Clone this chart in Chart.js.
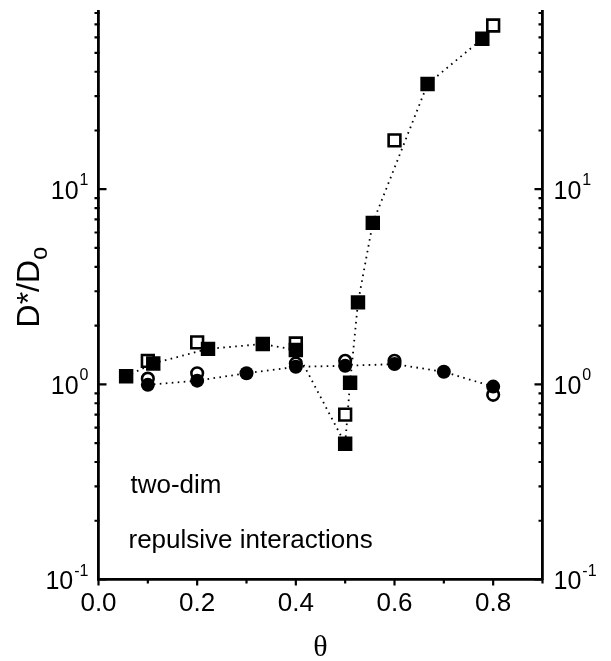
<!DOCTYPE html>
<html>
<head>
<meta charset="utf-8">
<script src="https://cdn.jsdelivr.net/npm/chart.js@4"></script>
<style>
  html, body { margin: 0; padding: 0; background: #fff; }
  #wrap { width: 611px; height: 661px; position: relative; }
</style>
</head>
<body>
<div id="wrap"><canvas id="myChart"></canvas></div>
<script>
// theta values and D*/Do
const openSquareX = [0.1, 0.2, 0.4, 0.5, 0.6, 0.8];
const openSquareY = [1.32, 1.64, 1.62, 0.70, 17.8, 69.0];
const filledSquareX = [0.056, 0.111, 0.222, 0.333, 0.4, 0.5, 0.51, 0.526, 0.556, 0.667, 0.778];
const filledSquareY = [1.10, 1.28, 1.52, 1.61, 1.50, 0.496, 1.02, 2.63, 6.72, 34.6, 59.0];
const openCircleX = [0.1, 0.2, 0.4, 0.5, 0.6, 0.8];
const openCircleY = [1.07, 1.14, 1.28, 1.32, 1.32, 0.884];
const filledCircleX = [0.1, 0.2, 0.3, 0.4, 0.5, 0.6, 0.7, 0.8];
const filledCircleY = [0.994, 1.045, 1.14, 1.23, 1.245, 1.27, 1.16, 0.974];

const xTickLabels = ["0.0", "0.2", "0.4", "0.6", "0.8"];
const yMajorTicks = [0.1, 1, 10];
const yExponents = ["-1", "0", "1"];
const yMin = 0.1;
const yMax = 82;
const xMin = 0;
const xMax = 0.9;

const ctx = document.getElementById("myChart");
const FONT = "'Liberation Sans', Arial, Helvetica, sans-serif";

function pts(xs, ys) {
  return xs.map((v, i) => ({ x: v, y: ys[i] }));
}

// ticks, log labels, y title and the two notes
const extras = {
  id: "extras",
  afterDraw(chart) {
    const c = chart.ctx;
    const y = chart.scales.y;
    const x = chart.scales.x;
    const area = chart.chartArea;
    c.save();
    c.strokeStyle = "#000";
    c.fillStyle = "#000";
    c.lineWidth = 2.2;

    for (let e = -1; e <= 1; e++) {
      for (let m = 1; m <= 9; m++) {
        const v = m * Math.pow(10, e);
        if (v > yMax) continue;
        const py = y.getPixelForValue(v);
        const major = m === 1;
        c.beginPath();
        if (major) {
          c.moveTo(area.left, py);
          c.lineTo(area.left + 8, py);
        } else {
          c.moveTo(area.left - 4, py);
          c.lineTo(area.left + 1, py);
        }
        c.moveTo(area.right, py);
        c.lineTo(area.right - (major ? 8 : 4), py);
        c.stroke();
      }
    }

    for (let i = 0; i <= 9; i++) {
      const px = x.getPixelForValue(i / 10);
      c.beginPath();
      c.moveTo(px, area.bottom);
      c.lineTo(px, area.bottom + (i % 2 === 0 ? 6 : 4));
      c.stroke();
    }

    // 10^n labels on both sides
    c.textAlign = "left";
    c.textBaseline = "alphabetic";
    yMajorTicks.forEach((v, i) => {
      const py = y.getPixelForValue(v);
      c.font = "25px " + FONT;
      const wMain = c.measureText("10").width;
      c.font = "16px " + FONT;
      const wSup = c.measureText(yExponents[i]).width;
      const lx = area.left - 10 - (wMain + 1 + wSup);
      const rx = area.right + 11;
      [lx, rx].forEach((sx) => {
        c.font = "25px " + FONT;
        c.fillText("10", sx, py + 9.5);
        c.font = "16px " + FONT;
        c.fillText(yExponents[i], sx + wMain + 1, py - 4);
      });
    });

    // D*/Do
    c.save();
    c.translate(39, 287);
    c.rotate(-Math.PI / 2);
    c.font = "32px " + FONT;
    const w1 = c.measureText("D*/D").width;
    c.font = "24px " + FONT;
    const w2 = c.measureText("o").width;
    const start = -(w1 + w2) / 2;
    c.font = "32px " + FONT;
    c.fillText("D*/D", start, 0);
    c.font = "24px " + FONT;
    c.fillText("o", start + w1, 8);
    c.restore();

    c.font = "26px " + FONT;
    c.fillText("two-dim", 130.5, 493);
    c.fillText("repulsive interactions", 128.5, 548);
    c.restore();
  },
};

new Chart(ctx, {
  type: "scatter",
  data: {
    datasets: [
      {
        label: "squares line",
        data: pts(filledSquareX, filledSquareY),
        showLine: true,
        borderColor: "#000",
        borderWidth: 1.8,
        borderDash: [1.6, 4.4],
        pointRadius: 0,
        order: 5,
      },
      {
        label: "circles line",
        data: pts(filledCircleX, filledCircleY),
        showLine: true,
        borderColor: "#000",
        borderWidth: 1.8,
        borderDash: [1.6, 4.4],
        pointRadius: 0,
        order: 4,
      },
      {
        label: "open squares",
        data: pts(openSquareX, openSquareY),
        pointStyle: "rect",
        pointRadius: 8.3,
        pointBorderWidth: 2.6,
        backgroundColor: "#fff",
        borderColor: "#000",
        order: 3,
      },
      {
        label: "open circles",
        data: pts(openCircleX, openCircleY),
        pointStyle: "circle",
        pointRadius: 5.8,
        pointBorderWidth: 2.6,
        backgroundColor: "#fff",
        borderColor: "#000",
        order: 2,
      },
      {
        label: "filled squares",
        data: pts(filledSquareX, filledSquareY),
        pointStyle: "rect",
        pointRadius: 10.2,
        pointBorderWidth: 0,
        backgroundColor: "#000",
        borderColor: "#000",
        order: 1,
      },
      {
        label: "filled circles",
        data: pts(filledCircleX, filledCircleY),
        pointStyle: "circle",
        pointRadius: 7,
        pointBorderWidth: 0,
        backgroundColor: "#000",
        borderColor: "#000",
        order: 0,
      },
    ],
  },
  options: {
    responsive: true,
    maintainAspectRatio: false,
    animation: false,
    events: [],
    layout: { padding: { top: 8, left: 0, right: 0, bottom: 0 } },
    plugins: {
      legend: { display: false },
      tooltip: { enabled: false },
    },
    scales: {
      x: {
        type: "linear",
        min: xMin,
        max: xMax,
        grid: { display: false, drawTicks: false },
        border: { display: true, color: "#000", width: 2.8 },
        ticks: {
          stepSize: 0.1,
          autoSkip: false,
          maxRotation: 0,
          padding: 9,
          color: "#000",
          font: { family: FONT, size: 26 },
          callback: (v) => {
            const k = Math.round(v * 10);
            return k % 2 === 0 ? xTickLabels[k / 2] : "";
          },
        },
        title: {
          display: true,
          text: "θ",
          color: "#000",
          font: { family: "'Liberation Serif', 'Times New Roman', serif", size: 30, lineHeight: 1 },
          padding: { top: 0, bottom: -2 },
        },
        afterFit: (s) => { s.height = 81.5; },
      },
      y: {
        type: "logarithmic",
        position: "left",
        min: yMin,
        max: yMax,
        grid: { display: false, drawTicks: false },
        border: { display: true, color: "#000", width: 2.8 },
        ticks: { display: false },
        afterFit: (s) => { s.width = 98.5; },
      },
      y1: {
        type: "logarithmic",
        position: "right",
        min: yMin,
        max: yMax,
        grid: { display: false, drawTicks: false },
        border: { display: true, color: "#000", width: 2.8 },
        ticks: { display: false },
        afterFit: (s) => { s.width = 68.5; },
      },
    },
  },
  plugins: [extras],
});
</script>
</body>
</html>
